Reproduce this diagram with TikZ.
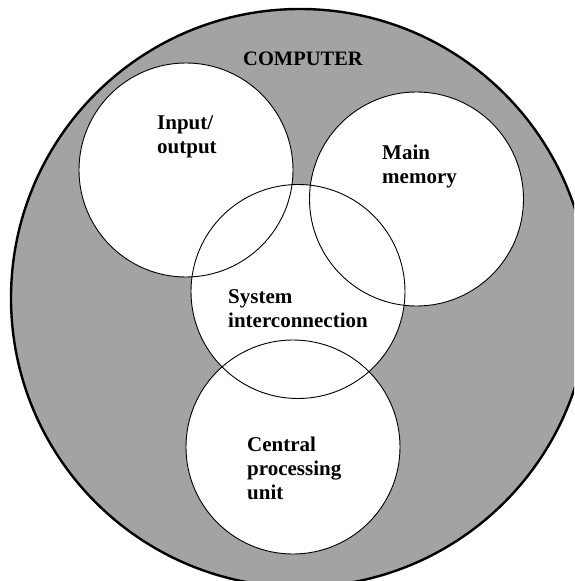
\documentclass[tikz,border=0pt]{standalone}
\usepackage{fontspec}
\setmainfont{Liberation Serif}
\begin{document}
\begin{tikzpicture}[x=1pt,y=-1pt,
  unitfill/.style={circle, fill=white, minimum size=214pt, inner sep=0pt},
  unitring/.style={circle, draw=black, line width=0.9pt, minimum size=214pt, inner sep=0pt},
  lbl/.style={font=\fontsize{21}{24}\selectfont\bfseries, align=left, anchor=base west, inner sep=0pt}]
\useasboundingbox (0,0) rectangle (574,581);
\clip (0,0) rectangle (574,581);
\node[circle, minimum size=578pt, inner sep=0pt, fill=black!36, draw=black, line width=2.4pt] (computer) at (300,298) {};
\node[unitfill] (io) at (186,170) {};
\node[unitfill] (mem) at (416.5,199) {};
\node[unitfill] (sys) at (298,291.5) {};
\node[unitfill] (cpu) at (293,447) {};
\node[unitring] (ioring) at (io) {};
\node[unitring] (memring) at (mem) {};
\node[unitring] (sysring) at (sys) {};
\node[unitring] (cpuring) at (cpu) {};
\node[font=\fontsize{20.5}{24}\selectfont\bfseries, anchor=base, inner sep=0pt] (title) at (303,65) {COMPUTER};
\node[lbl] (iotext) at (157,153) {Input/\\output};
\node[lbl] (memtext) at (382,183) {Main\\memory};
\node[lbl] (systext) at (228,327) {System\\interconnection};
\node[lbl] (cputext) at (247,499) {Central\\processing\\unit};
\end{tikzpicture}
\end{document}
